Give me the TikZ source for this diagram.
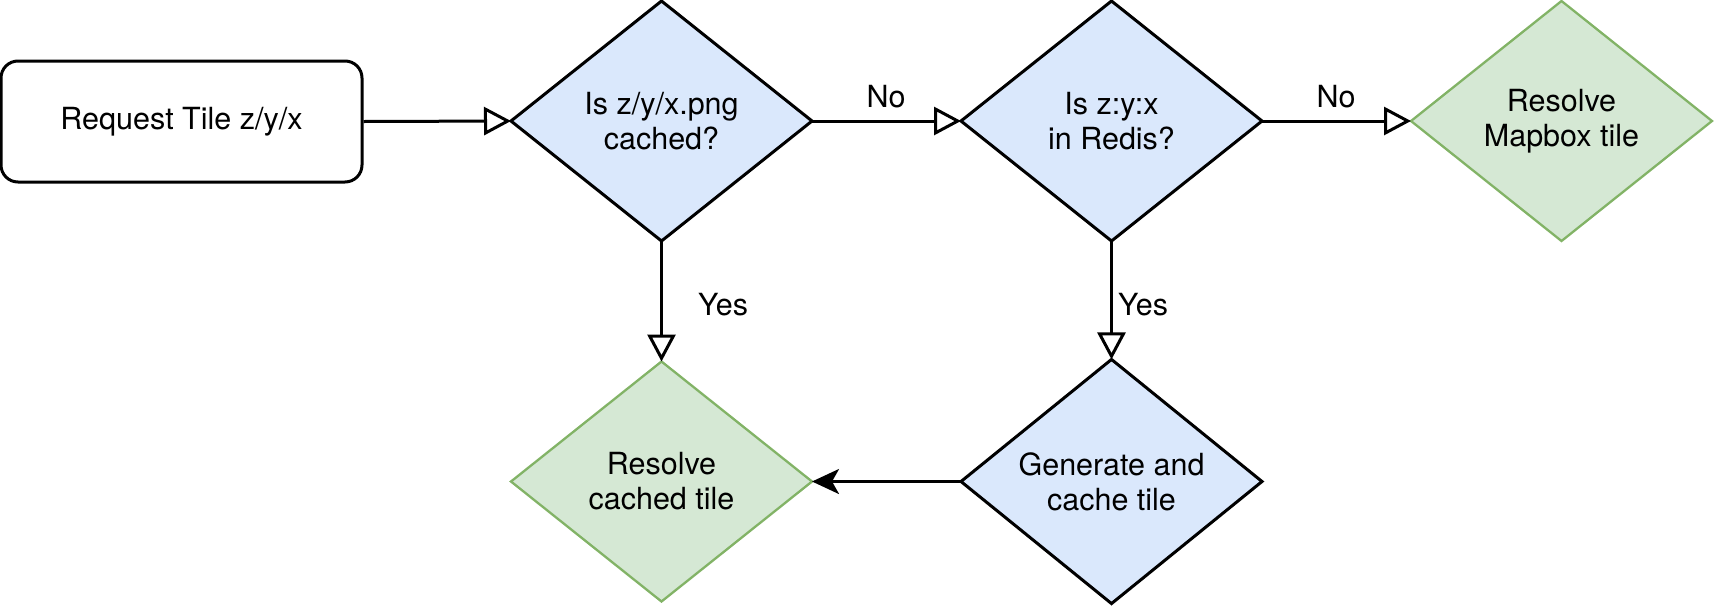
\documentclass[tikz,border=0pt]{standalone}
\usepackage{fontspec}
\setmainfont{TeX Gyre Heros}
\usetikzlibrary{shapes.geometric,arrows.meta}
\definecolor{blueFill}{HTML}{DAE8FC}
\definecolor{greenFill}{HTML}{D5E8D4}
\definecolor{greenLine}{HTML}{82B366}
\tikzset{
  txt/.style={font=\fontsize{30.5}{35}\selectfont, align=center, text=black},
  startbox/.style={txt, draw=black, line width=3pt, rounded corners=17pt, fill=white,
    minimum width=361pt, minimum height=121pt, inner sep=0pt},
  dia/.style={txt, diamond, minimum width=301pt, minimum height=240pt, inner sep=0pt, outer sep=0pt},
  bluedia/.style={dia, fill=blueFill, draw=black, line width=3pt},
  greendia/.style={dia, fill=greenFill, draw=greenLine, line width=2.3pt},
  flow/.style={draw=black, line width=3pt, -{Triangle[open, length=27pt, width=28pt]}},
  flowfill/.style={draw=black, line width=3pt, -{Stealth[length=27pt, width=25pt, inset=7pt]}},
  lbl/.style={font=\fontsize{30.5}{35}\selectfont, inner sep=0pt}
}
\begin{document}
\begin{tikzpicture}[x=1pt, y=-1pt]
\useasboundingbox (0,0) rectangle (1716,606);
\node[startbox] (req) at (181.5,121.5) {Request Tile z/y/x};
\node[bluedia] (d1) at (661.5,121) {Is z/y/x.png\\cached?};
\node[bluedia] (d2) at (1111.5,121) {Is z:y:x\\in Redis?};
\node[greendia] (d3) at (1561.5,121) {Resolve\\Mapbox tile};
\node[greendia] (d4) at (661.5,481.5) {Resolve\\cached tile};
\node[bluedia] (d5) at (1111.5,481.5) {Generate and\\cache tile};
\draw[flow] (req.east) -- (d1.west);
\draw[flow] (d1.east) -- (d2.west);
\draw[flow] (d2.east) -- (d3.west);
\draw[flow] (d1.south) -- (d4.north);
\draw[flow] (d2.south) -- (d5.north);
\draw[flowfill] (d5.west) -- (d4.east);
\node[lbl] (no1) at (886,97) {No};
\node[lbl] (no2) at (1336,97) {No};
\node[lbl, anchor=west] (yes1) at (698,305) {Yes};
\node[lbl, anchor=west] (yes2) at (1118,305) {Yes};
\end{tikzpicture}
\end{document}
